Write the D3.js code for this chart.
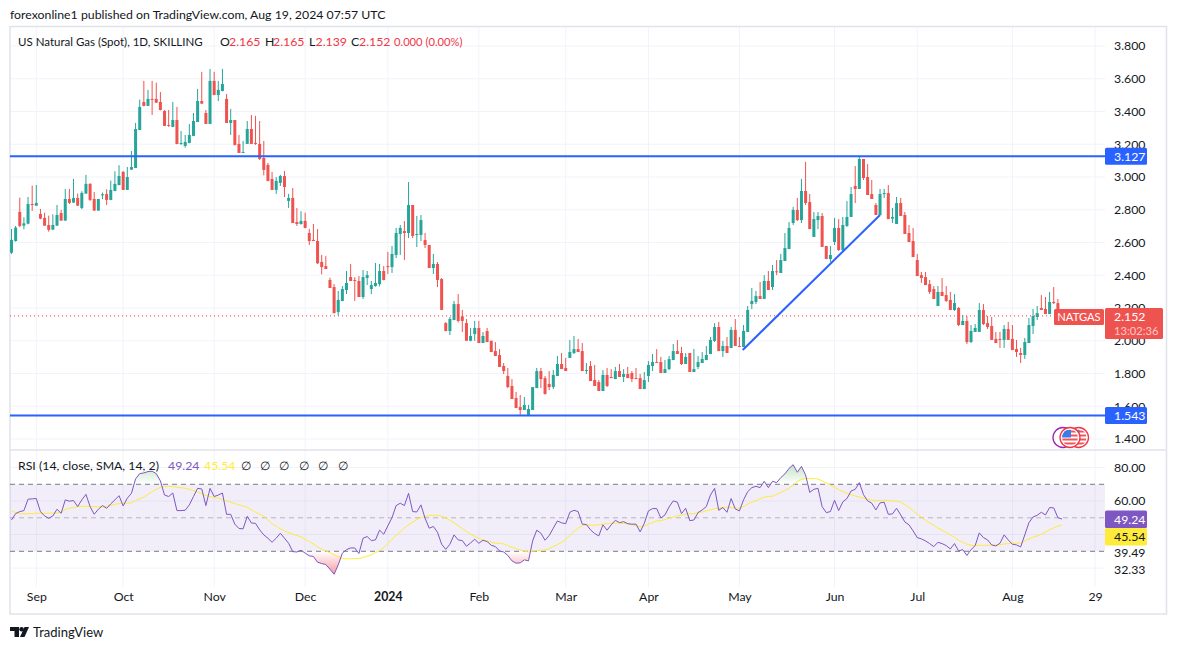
<!DOCTYPE html>
<html>
<head>
<meta charset="utf-8">
<script src="https://cdn.jsdelivr.net/npm/d3@7"></script>
<style>
  html, body { margin: 0; padding: 0; background: #fff; }
  text { font-family: Lato, "Noto Sans", sans-serif; font-size: 12.3px; fill: #131722; }
</style>
</head>
<body>
<div id="chart"></div>
<script>
// daily candles
const opens = [
  2.538,2.609,2.787,2.703,2.715,2.835,2.825,2.774,2.750,2.707,
  2.679,2.703,2.780,2.734,2.866,2.844,2.872,2.811,2.899,2.958,
  2.866,2.795,2.888,2.896,2.860,2.915,2.951,3.031,2.921,3.045,
  3.055,3.287,3.458,3.434,3.477,3.477,3.458,3.403,3.318,3.306,
  3.348,3.204,3.190,3.208,3.251,3.336,3.464,3.391,3.324,3.587,
  3.501,3.525,3.477,3.330,3.348,3.202,3.149,3.202,3.293,3.208,
  3.202,3.116,3.074,2.988,2.921,2.964,3.006,2.854,2.872,2.725,
  2.713,2.732,2.658,2.616,2.609,2.481,2.456,2.371,2.328,2.175,
  2.243,2.310,2.389,2.371,2.365,2.267,2.383,2.316,2.334,2.346,
  2.426,2.456,2.450,2.524,2.652,2.670,2.658,2.829,2.648,2.646,
  2.615,2.585,2.444,2.469,2.377,2.108,2.059,2.127,2.224,2.149,
  2.108,2.000,2.041,2.078,1.986,2.059,2.000,1.937,1.913,1.846,
  1.785,1.724,1.650,1.595,1.577,1.547,1.577,1.711,1.815,1.772,
  1.736,1.717,1.785,1.858,1.834,1.895,1.925,1.949,1.937,1.817,
  1.846,1.760,1.748,1.693,1.791,1.779,1.766,1.815,1.779,1.797,
  1.803,1.772,1.772,1.705,1.785,1.846,1.870,1.870,1.803,1.827,
  1.882,1.937,1.925,1.858,1.925,1.809,1.840,1.864,1.882,1.919,
  1.999,2.084,1.937,1.968,1.956,2.066,1.968,1.962,2.054,2.224,
  2.237,2.273,2.255,2.365,2.328,2.424,2.414,2.487,2.560,2.719,
  2.799,2.737,2.915,2.847,2.634,2.737,2.762,2.579,2.499,2.603,
  2.689,2.554,2.701,2.756,2.945,2.927,3.110,3.000,2.896,2.829,
  2.768,2.898,2.902,2.746,2.713,2.841,2.768,2.658,2.609,2.493,
  2.401,2.389,2.346,2.316,2.212,2.298,2.279,2.249,2.188,2.200,
  2.096,2.121,1.992,2.054,2.054,2.188,2.108,2.090,2.011,2.011,
  2.005,2.072,2.011,1.950,1.925,1.913,1.986,2.090,2.145,2.200,
  2.194,2.163,2.237,2.230,2.165
];
const highs = [
  2.683,2.701,2.874,2.754,2.878,2.947,2.951,2.805,2.782,2.764,
  2.772,2.829,2.799,2.927,2.927,2.988,2.899,2.913,3.013,2.962,
  2.909,2.866,2.905,2.925,2.978,3.035,3.072,3.037,3.061,3.159,
  3.330,3.473,3.587,3.532,3.587,3.576,3.519,3.409,3.409,3.458,
  3.428,3.281,3.257,3.324,3.391,3.538,3.642,3.409,3.660,3.642,
  3.587,3.660,3.507,3.416,3.348,3.257,3.220,3.342,3.379,3.373,
  3.342,3.220,3.086,3.031,3.000,3.013,3.037,2.897,2.933,2.811,
  2.791,2.782,2.683,2.713,2.682,2.524,2.517,2.385,2.346,2.304,
  2.334,2.426,2.469,2.389,2.395,2.432,2.426,2.365,2.475,2.469,
  2.456,2.542,2.579,2.689,2.707,2.731,2.969,2.829,2.762,2.768,
  2.658,2.585,2.530,2.481,2.383,2.114,2.145,2.243,2.285,2.188,
  2.133,2.078,2.121,2.121,2.053,2.078,2.000,1.992,1.949,1.864,
  1.834,1.766,1.687,1.669,1.656,1.608,1.717,1.834,1.834,1.785,
  1.815,1.821,1.907,1.925,1.895,2.004,2.029,2.011,1.986,1.864,
  1.876,1.852,1.760,1.821,1.834,1.827,1.840,1.858,1.827,1.840,
  1.815,1.834,1.797,1.809,1.876,1.919,1.949,1.901,1.882,1.907,
  1.980,2.004,1.962,1.925,1.925,1.950,1.907,1.931,1.968,2.023,
  2.108,2.115,1.999,2.023,2.084,2.133,2.023,2.096,2.212,2.322,
  2.304,2.359,2.401,2.426,2.463,2.493,2.530,2.658,2.725,2.817,
  2.872,2.988,3.092,2.896,2.786,2.786,2.780,2.579,2.579,2.750,
  2.743,2.756,2.853,2.939,3.067,3.122,3.110,3.079,2.982,2.841,
  2.927,2.927,2.951,2.811,2.878,2.872,2.786,2.707,2.689,2.530,
  2.420,2.420,2.371,2.334,2.334,2.383,2.334,2.298,2.285,2.206,
  2.157,2.151,2.096,2.102,2.230,2.224,2.151,2.145,2.054,2.054,
  2.096,2.115,2.096,2.005,1.956,2.017,2.139,2.194,2.212,2.279,
  2.267,2.298,2.328,2.255,2.165
];
const lows = [
  2.530,2.605,2.693,2.681,2.711,2.793,2.823,2.742,2.701,2.666,
  2.677,2.701,2.732,2.732,2.835,2.842,2.823,2.803,2.897,2.854,
  2.793,2.793,2.864,2.829,2.858,2.913,2.949,2.921,2.921,3.043,
  3.055,3.287,3.432,3.434,3.379,3.452,3.407,3.312,3.306,3.304,
  3.200,3.196,3.179,3.206,3.249,3.336,3.446,3.324,3.324,3.499,
  3.464,3.523,3.330,3.257,3.192,3.147,3.147,3.202,3.202,3.196,
  3.104,3.010,2.974,2.921,2.897,2.945,2.878,2.811,2.719,2.701,
  2.709,2.687,2.585,2.609,2.469,2.406,2.438,2.322,2.167,2.153,
  2.241,2.285,2.365,2.243,2.267,2.255,2.340,2.285,2.330,2.332,
  2.369,2.408,2.414,2.505,2.524,2.493,2.627,2.627,2.572,2.609,
  2.566,2.444,2.408,2.328,2.188,2.059,2.035,2.125,2.112,2.053,
  2.000,1.996,2.000,1.986,1.986,1.992,1.931,1.907,1.840,1.797,
  1.711,1.644,1.589,1.547,1.577,1.547,1.577,1.711,1.711,1.671,
  1.699,1.705,1.785,1.827,1.815,1.895,1.919,1.931,1.815,1.797,
  1.754,1.724,1.693,1.693,1.717,1.772,1.766,1.779,1.748,1.772,
  1.748,1.766,1.705,1.705,1.748,1.815,1.864,1.803,1.803,1.821,
  1.882,1.919,1.852,1.858,1.809,1.809,1.827,1.864,1.882,1.919,
  1.992,1.937,1.901,1.925,1.956,1.968,1.962,1.962,2.054,2.194,
  2.224,2.255,2.255,2.310,2.310,2.401,2.414,2.487,2.560,2.707,
  2.731,2.719,2.829,2.682,2.634,2.682,2.573,2.499,2.481,2.585,
  2.548,2.548,2.695,2.756,2.841,2.927,2.982,2.890,2.866,2.768,
  2.768,2.872,2.743,2.719,2.713,2.762,2.652,2.603,2.511,2.395,
  2.353,2.340,2.285,2.255,2.212,2.273,2.237,2.188,2.182,2.090,
  2.096,1.980,1.986,2.054,2.054,2.096,2.072,2.005,1.986,1.956,
  1.956,2.005,1.943,1.901,1.864,1.889,1.986,2.041,2.127,2.188,
  2.163,2.163,2.224,2.165,2.139
];
const closes = [
  2.616,2.691,2.701,2.717,2.835,2.831,2.842,2.746,2.703,2.677,
  2.707,2.768,2.734,2.866,2.842,2.872,2.825,2.903,2.958,2.860,
  2.795,2.866,2.894,2.860,2.921,2.958,3.006,2.921,3.000,3.061,
  3.293,3.428,3.434,3.477,3.473,3.454,3.409,3.312,3.312,3.348,
  3.202,3.208,3.214,3.257,3.342,3.464,3.448,3.324,3.587,3.501,
  3.532,3.568,3.330,3.348,3.196,3.147,3.153,3.293,3.202,3.202,
  3.110,3.043,2.976,2.921,2.976,3.006,2.939,2.872,2.719,2.713,
  2.732,2.689,2.609,2.609,2.473,2.450,2.438,2.322,2.169,2.249,
  2.316,2.353,2.365,2.367,2.267,2.389,2.401,2.340,2.353,2.426,
  2.371,2.450,2.530,2.658,2.689,2.658,2.829,2.640,2.652,2.737,
  2.585,2.444,2.469,2.371,2.188,2.059,2.133,2.224,2.121,2.121,
  2.000,2.029,2.078,1.986,2.029,1.992,1.931,1.907,1.840,1.815,
  1.717,1.644,1.589,1.577,1.608,1.583,1.717,1.815,1.766,1.675,
  1.717,1.791,1.858,1.827,1.815,1.931,1.949,1.931,1.815,1.821,
  1.754,1.724,1.693,1.791,1.724,1.772,1.815,1.779,1.797,1.772,
  1.766,1.768,1.705,1.760,1.852,1.870,1.864,1.803,1.827,1.888,
  1.937,1.919,1.858,1.901,1.809,1.827,1.870,1.889,1.913,2.005,
  2.084,1.937,1.968,1.925,2.066,1.968,1.962,2.060,2.188,2.243,
  2.273,2.255,2.365,2.310,2.426,2.420,2.493,2.566,2.689,2.799,
  2.737,2.915,2.841,2.682,2.743,2.762,2.573,2.499,2.524,2.689,
  2.554,2.707,2.756,2.896,2.927,3.110,2.994,2.890,2.866,2.768,
  2.896,2.902,2.743,2.756,2.841,2.762,2.652,2.603,2.511,2.395,
  2.383,2.340,2.298,2.255,2.298,2.273,2.243,2.188,2.230,2.096,
  2.121,1.992,2.060,2.078,2.188,2.102,2.084,2.005,1.986,2.007,
  2.072,2.005,1.943,1.931,1.913,1.992,2.096,2.151,2.169,2.188,
  2.163,2.237,2.230,2.165,2.152
];

// RSI(14) and its SMA, one value per candle
const rsi = [
  48.7,52.5,53.7,54.3,61.1,61.3,61.5,53.7,51.1,49.7,51.1,55.1,52.7,60.7,59.9,60.3,56.7,60.7,64.0,56.7,
  52.1,55.1,57.3,55.7,58.3,60.7,63.2,57.1,61.7,64.6,73.2,76.4,76.8,77.6,77.8,76.4,72.0,63.6,62.7,64.8,
  54.3,54.3,54.5,57.7,62.7,67.6,67.2,57.3,67.6,62.7,63.6,64.8,52.1,52.1,46.2,43.6,43.4,50.9,46.9,46.7,
  42.8,39.8,37.8,35.4,37.8,40.8,37.8,34.8,29.8,29.6,30.6,28.9,27.3,26.9,23.5,22.7,22.1,19.3,16.3,21.9,
  28.9,31.0,32.0,32.0,28.7,37.8,38.8,36.4,36.8,42.6,40.2,45.2,50.1,57.3,58.7,57.3,64.6,53.7,53.5,57.7,
  49.7,43.8,44.8,41.4,34.2,31.2,34.2,39.8,36.8,36.4,33.0,35.0,37.2,34.8,36.6,35.8,33.6,32.8,30.2,29.6,
  27.5,24.3,22.9,23.1,24.9,24.3,36.2,42.6,40.8,36.6,39.4,43.8,48.1,47.0,46.5,53.3,54.5,53.7,46.2,46.0,
  42.8,40.6,39.2,45.8,42.6,45.8,48.5,47.1,47.7,46.5,46.2,46.2,41.6,46.7,54.1,55.5,55.5,49.9,51.7,56.5,
  60.1,59.3,52.5,55.7,48.3,48.7,53.1,54.7,56.7,63.6,67.6,54.5,56.1,53.3,61.5,55.3,54.1,60.7,65.6,68.0,
  68.8,68.0,71.8,68.0,71.8,71.0,74.0,76.2,79.5,81.7,77.2,80.7,75.6,65.2,67.0,67.6,56.7,53.1,53.7,60.5,
  54.3,59.5,61.5,66.0,67.0,71.0,63.8,60.1,58.7,54.7,58.9,59.3,52.1,52.3,55.7,51.7,47.5,45.8,42.2,38.2,
  37.4,36.2,34.6,32.8,35.4,34.6,33.4,31.4,34.6,30.2,31.0,27.5,31.0,33.4,41.0,38.2,36.8,33.8,33.2,34.8,
  39.8,36.8,34.2,33.8,32.6,39.8,47.1,50.5,51.5,53.3,51.7,56.1,55.9,50.1,49.24
];
const rsiSma = [
  54.1,53.1,52.5,52.3,52.5,52.5,52.7,52.7,52.7,52.7,52.9,52.9,53.3,54.9,55.7,56.1,56.7,56.9,56.9,56.7,
  56.7,56.5,56.5,56.9,57.3,58.1,58.5,58.5,58.7,58.9,60.3,61.3,62.3,64.0,65.6,67.0,68.2,68.6,68.8,68.6,
  68.2,68.0,67.6,67.0,66.2,65.4,64.4,63.4,62.7,62.1,61.7,60.9,60.1,59.3,58.5,57.7,57.1,56.3,54.9,53.3,
  52.1,50.9,48.7,46.5,45.0,43.4,42.2,41.2,40.2,39.4,38.6,37.2,35.8,34.4,32.6,31.4,30.2,29.2,27.9,26.7,
  25.7,25.5,25.5,25.7,25.7,26.3,27.1,27.9,29.2,30.4,32.4,34.6,37.2,39.6,41.6,43.8,45.8,47.5,48.9,50.1,
  50.9,51.3,51.5,51.5,50.9,49.9,48.5,47.1,45.2,43.6,41.8,40.2,39.0,37.8,36.8,36.2,35.4,34.8,34.8,34.4,
  33.4,32.4,31.6,30.8,30.0,29.6,30.0,30.4,30.6,30.8,31.6,32.8,34.0,35.4,37.0,39.4,41.8,43.8,45.4,45.8,
  45.6,45.6,45.8,46.2,46.5,46.7,46.9,46.7,46.7,46.3,45.8,45.4,44.6,45.0,46.2,47.1,48.1,48.3,48.9,49.7,
  50.5,51.1,51.7,52.1,52.3,52.5,53.1,53.5,54.1,54.7,55.5,55.7,56.3,56.3,56.1,55.9,55.7,56.7,58.1,59.3,
  60.3,61.3,62.3,62.7,62.9,64.0,65.2,66.4,67.6,69.4,71.6,73.0,73.4,73.4,73.4,73.2,72.0,70.8,69.6,68.2,
  66.8,65.6,64.6,63.8,63.0,62.4,61.7,61.1,60.5,60.3,60.3,60.5,60.3,60.1,59.9,59.3,57.9,56.3,54.1,52.3,
  50.3,48.5,46.9,45.6,43.8,42.6,41.2,39.8,38.4,36.6,35.4,34.2,33.6,33.4,33.6,33.6,33.6,33.6,33.8,34.0,
  34.4,34.6,34.8,34.8,35.0,36.2,37.4,38.4,39.2,40.2,41.4,42.8,44.0,45.1,45.54
];

// axis ticks
const priceTicks = [1.4,1.6,1.8,2.0,2.2,2.4,2.6,2.8,3.0,3.2,3.4,3.6,3.8];
const timeTickBars = [6,27,49,71,91,113,134,154,176,199,219,242,262];
const timeTickLabels = ["Sep","Oct","Nov","Dec","2024","Feb","Mar","Apr","May","Jun","Jul","Aug","29"];
const rsiGrid = [80,60,40,20];
const rsiAxisValues = [80,60,29,18.8];
const rsiAxisLabels = ["80.00","60.00","39.49","32.33"];
const rsiBands = [70,50,30];

// drawings on the chart
const levels = [3.127,1.543];
const trendBars = [176.8,210];
const trendPrices = [1.944,2.768];
const lastPrice = 2.152;

const upColor = "#26a69a", downColor = "#ef5350", blue = "#2962ff", purple = "#7e57c2", yellow = "#ffeb3b";
const gridColor = "#f0f3fa", borderColor = "#e0e3eb";
const plotLeft = 10, plotRight = 1105, paneSplit = 450, plotBottom = 587;

const svg = d3.select("#chart").append("svg")
  .attr("width", 1177).attr("height", 650).style("display", "block");

const x = d3.scaleLinear().domain([0,262]).range([11.5,1095.1]);
const y = d3.scaleLinear().domain([1.4,3.8]).range([439,46]);
const yRsi = d3.scaleLinear().domain([30,70]).range([551.3,484.3]);

const defs = svg.append("defs");
defs.append("clipPath").attr("id","plotClip").append("rect")
  .attr("x",plotLeft).attr("y",27).attr("width",plotRight-plotLeft).attr("height",paneSplit-27);
defs.append("clipPath").attr("id","overClip").append("rect")
  .attr("x",plotLeft).attr("y",paneSplit).attr("width",plotRight-plotLeft).attr("height",yRsi(70)-paneSplit);
defs.append("clipPath").attr("id","underClip").append("rect")
  .attr("x",plotLeft).attr("y",yRsi(30)).attr("width",plotRight-plotLeft).attr("height",plotBottom-yRsi(30));

function gradient(id, top, bottom, c1, o1, c2, o2) {
  const g = defs.append("linearGradient").attr("id",id).attr("gradientUnits","userSpaceOnUse")
    .attr("x1",0).attr("x2",0).attr("y1",top).attr("y2",bottom);
  g.append("stop").attr("offset",0).attr("stop-color",c1).attr("stop-opacity",o1);
  g.append("stop").attr("offset",1).attr("stop-color",c2).attr("stop-opacity",o2);
}
gradient("overGrad", yRsi(82), yRsi(70), "#4caf50", 0.35, "#4caf50", 0);
gradient("underGrad", yRsi(30), yRsi(16), "#f23645", 0, "#f23645", 0.5);

// grid
const grid = svg.append("g");
grid.selectAll(".hp").data(priceTicks).join("line")
  .attr("x1",plotLeft).attr("x2",plotRight).attr("y1",d => y(d)).attr("y2",d => y(d))
  .attr("stroke",gridColor).attr("stroke-width",1);
grid.selectAll(".hr").data(rsiGrid).join("line")
  .attr("x1",plotLeft).attr("x2",plotRight).attr("y1",d => yRsi(d)).attr("y2",d => yRsi(d))
  .attr("stroke",gridColor).attr("stroke-width",1);
grid.selectAll(".v").data(timeTickBars).join("line")
  .attr("x1",d => x(d)).attr("x2",d => x(d)).attr("y1",27).attr("y2",plotBottom)
  .attr("stroke",gridColor).attr("stroke-width",1);

// frame
const frame = svg.append("g");
frame.append("rect").attr("x",10).attr("y",26.5).attr("width",1156.5).attr("height",587.5)
  .attr("fill","none").attr("stroke",borderColor).attr("stroke-width",1.5);
frame.append("line").attr("x1",10).attr("x2",1166).attr("y1",paneSplit).attr("y2",paneSplit)
  .attr("stroke",borderColor).attr("stroke-width",1.5);

// candles
const idx = d3.range(opens.length);
const candles = svg.append("g").attr("clip-path","url(#plotClip)");
candles.selectAll(".wick").data(idx).join("line")
  .attr("x1",i => x(i)).attr("x2",i => x(i))
  .attr("y1",i => y(highs[i])).attr("y2",i => y(lows[i]))
  .attr("stroke",i => closes[i] >= opens[i] ? upColor : downColor).attr("stroke-width",1);
candles.selectAll(".body").data(idx).join("rect")
  .attr("x",i => x(i)-1.5).attr("width",3)
  .attr("y",i => y(Math.max(opens[i],closes[i])))
  .attr("height",i => Math.max(1,Math.abs(y(opens[i])-y(closes[i]))))
  .attr("fill",i => closes[i] >= opens[i] ? upColor : downColor);

// last price line
svg.append("line").attr("x1",plotLeft).attr("x2",1054).attr("y1",y(lastPrice)).attr("y2",y(lastPrice))
  .attr("stroke","#f23645").attr("stroke-width",1).attr("stroke-dasharray","1 3");

// horizontal levels and trend line
svg.selectAll(".level").data(levels).join("line")
  .attr("x1",plotLeft).attr("x2",plotRight).attr("y1",d => y(d)).attr("y2",d => y(d))
  .attr("stroke",blue).attr("stroke-width",2);
svg.append("line")
  .attr("x1",x(trendBars[0])).attr("y1",y(trendPrices[0]))
  .attr("x2",x(trendBars[1])).attr("y2",y(trendPrices[1]))
  .attr("stroke",blue).attr("stroke-width",2);

// RSI pane
svg.append("rect").attr("x",plotLeft).attr("width",plotRight-plotLeft)
  .attr("y",yRsi(70)).attr("height",yRsi(30)-yRsi(70))
  .attr("fill",purple).attr("fill-opacity",0.1);
svg.selectAll(".band").data(rsiBands).join("line")
  .attr("x1",plotLeft).attr("x2",plotRight).attr("y1",d => yRsi(d)).attr("y2",d => yRsi(d))
  .attr("stroke","#787b86").attr("stroke-opacity",d => d === 50 ? 0.5 : 1)
  .attr("stroke-width",1).attr("stroke-dasharray","5 4");

const overArea = d3.area().x((d,i) => x(i)).y0(yRsi(70)).y1(d => yRsi(d));
svg.append("path").datum(rsi).attr("d",overArea)
  .attr("fill","url(#overGrad)").attr("clip-path","url(#overClip)");
const underArea = d3.area().x((d,i) => x(i)).y0(yRsi(30)).y1(d => yRsi(d));
svg.append("path").datum(rsi).attr("d",underArea)
  .attr("fill","url(#underGrad)").attr("clip-path","url(#underClip)");

const rsiLine = d3.line().x((d,i) => x(i)).y(d => yRsi(d));
svg.append("path").datum(rsiSma).attr("d",rsiLine)
  .attr("fill","none").attr("stroke",yellow).attr("stroke-width",1);
svg.append("path").datum(rsi).attr("d",rsiLine)
  .attr("fill","none").attr("stroke",purple).attr("stroke-width",1);

// axes
const priceAxis = d3.axisRight(y).tickValues(priceTicks).tickSize(0).tickPadding(0)
  .tickFormat(d3.format(".3f"));
const gPrice = svg.append("g").attr("transform","translate(1114,0)").call(priceAxis);
gPrice.select(".domain").remove();

const rsiAxis = d3.axisRight(yRsi).tickValues(rsiAxisValues).tickSize(0).tickPadding(0)
  .tickFormat((d,i) => rsiAxisLabels[i]);
const gRsi = svg.append("g").attr("transform","translate(1114,0)").call(rsiAxis);
gRsi.select(".domain").remove();

const timeAxis = d3.axisBottom(x).tickValues(timeTickBars).tickSize(0).tickPadding(0)
  .tickFormat((d,i) => timeTickLabels[i]);
const gTime = svg.append("g").attr("transform","translate(0,592)").call(timeAxis);
gTime.select(".domain").remove();
gTime.selectAll("text").style("font-weight",(d,i) => timeTickLabels[i] === "2024" ? "700" : "400");
svg.selectAll("g.tick text").attr("font-family",null).attr("font-size",null);

// axis labels
function axisBox(px, py, w, h, color, label, textColor) {
  svg.append("rect").attr("x",px).attr("y",py).attr("width",w).attr("height",h).attr("rx",1.5).attr("fill",color);
  svg.append("text").attr("x",1114).attr("y",py+h/2).attr("dy","0.35em").style("fill",textColor).text(label);
}
levels.forEach(d => axisBox(1105, y(d)-8.5, 42, 17, blue, d3.format(".3f")(d), "#fff"));
axisBox(1105, 510.5, 42, 17.5, purple, "49.24", "#fff");
axisBox(1105, 528, 42, 17.5, yellow, "45.54", "#131722");

svg.append("rect").attr("x",1054).attr("y",309).attr("width",50).attr("height",16).attr("rx",1.5).attr("fill",downColor);
svg.append("text").attr("x",1079).attr("y",317).attr("dy","0.35em").attr("text-anchor","middle")
  .style("fill","#fff").style("font-size","11.2px").text("NATGAS");
svg.append("rect").attr("x",1105).attr("y",308).attr("width",58).attr("height",31).attr("rx",1.5).attr("fill",downColor);
svg.append("text").attr("x",1114).attr("y",316.5).attr("dy","0.35em").style("fill","#fff").text(d3.format(".3f")(lastPrice));
svg.append("text").attr("x",1114).attr("y",331).attr("dy","0.35em").style("fill","#fff")
  .style("fill-opacity",0.7).style("font-size","11.2px").text("13:02:36");

// flag markers: purple ring, then two red rings with the flag inside
function flagMark(cx, cy, id) {
  defs.append("clipPath").attr("id",id).append("circle").attr("cx",cx).attr("cy",cy).attr("r",8);
  svg.append("circle").attr("cx",cx).attr("cy",cy).attr("r",10).attr("fill","#fff")
    .attr("stroke","#f23645").attr("stroke-width",1.3);
  const flag = svg.append("g").attr("clip-path",`url(#${id})`);
  [-7,-3,1,5].forEach(s => flag.append("rect").attr("x",cx-8).attr("y",cy+s).attr("width",16).attr("height",2).attr("fill","#f0555a"));
  flag.append("rect").attr("x",cx-8).attr("y",cy-8).attr("width",9).attr("height",8).attr("fill","#3c7be8");
}
svg.append("circle").attr("cx",1063).attr("cy",437.5).attr("r",10).attr("fill","#fff")
  .attr("stroke","#9c27b0").attr("stroke-width",1.3);
flagMark(1078.5, 437.5, "flagRight");
flagMark(1070, 437.5, "flagMid");

// header and legends
svg.append("text").attr("x",10).attr("y",19).text("forexonline1 published on TradingView.com, Aug 19, 2024 07:57 UTC");

const legendColor = "#f23645";
const legendParts = [
  [18,"US Natural Gas (Spot), 1D, SKILLING","#131722",11.5],
  [220,"O","#131722",12.3],[229,"2.165",legendColor,12.3],
  [265,"H","#131722",12.3],[273,"2.165",legendColor,12.3],
  [309,"L","#131722",12.3],[315.5,"2.139",legendColor,12.3],
  [351,"C","#131722",12.3],[359,"2.152",legendColor,12.3],
  [394,"0.000 (0.00%)",legendColor,11.2]
];
svg.selectAll(".legend").data(legendParts).join("text")
  .attr("x",d => d[0]).attr("y",45.5).style("fill",d => d[2]).style("font-size",d => d[3]+"px").text(d => d[1]);

const rsiLegend = [
  [18,"RSI (14, close, SMA, 14, 2)","#131722"],
  [168,"49.24",purple],[204,"45.54",yellow]
];
svg.selectAll(".rsiLegend").data(rsiLegend).join("text")
  .attr("x",d => d[0]).attr("y",470).style("fill",d => d[2]).text(d => d[1]);
svg.selectAll(".empty").data([245.7,265,284,304,323,343]).join("text")
  .attr("x",d => d).attr("y",470).attr("text-anchor","middle").text("∅");

// footer logo
svg.append("path").attr("d","M10 627h9v10h-4.5v-6H10z").attr("fill","#131722");
svg.append("circle").attr("cx",21.6).attr("cy",629.3).attr("r",2.3).attr("fill","#131722");
svg.append("path").attr("d","M24.5 627h4.5l-4.5 10h-4.5z").attr("fill","#131722");
svg.append("text").attr("x",33).attr("y",637).style("font-size","13px").text("TradingView");
</script>
</body>
</html>
